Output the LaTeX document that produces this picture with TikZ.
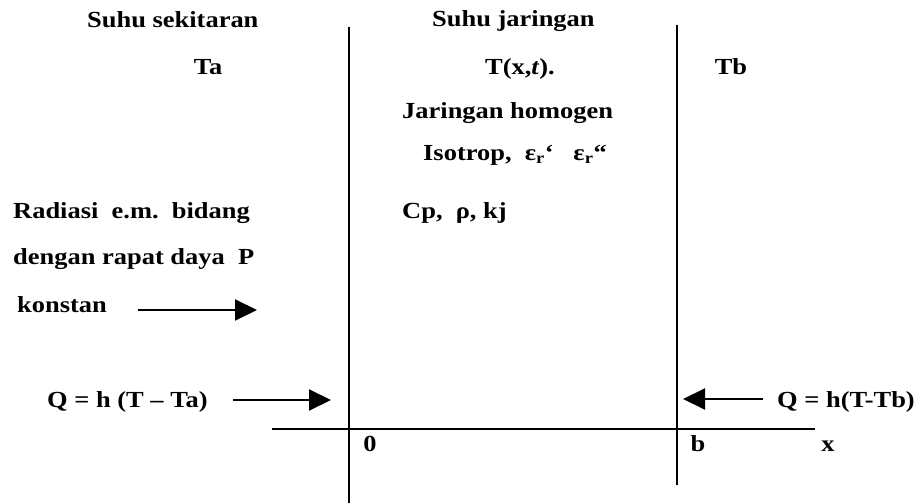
\documentclass[tikz,border=0pt]{standalone}
\usepackage{fontspec}
\setmainfont{Liberation Serif}[FakeStretch=1.15]
\usetikzlibrary{arrows.meta}
\begin{document}
\begin{tikzpicture}[
	x=1pt, y=-1pt,
	teksw/.style={ inner sep=0pt, anchor=base west, font=\fontsize{23}{27}\selectfont\bfseries },
	teksc/.style={ inner sep=0pt, anchor=base, font=\fontsize{23}{27}\selectfont\bfseries },
	batas/.style={ line width=2pt },
	panah/.style={ line width=2pt, -{Triangle[length=22pt,width=21pt]} }
]
\useasboundingbox (0,0) rectangle (919,503);

\node at (87,28) (sekitar) [teksw] {Suhu sekitaran};
\node at (432,27) (jaringan) [teksw] {Suhu jaringan};
\node at (208,75) (Ta) [teksc] {Ta};
\node at (520,75) (Txt) [teksc] {T(x,\textit{t}).};
\node at (731,75) (Tb) [teksc] {Tb};
\node at (402,118) (homogen) [teksw] {Jaringan homogen};
\node at (423,160) (isotrop) [teksw] {Isotrop,\ \ ε\textsubscript{r}‘\ \ \ ε\textsubscript{r}“};
\node at (402,218) (sifat) [teksw] {Cp,\ \ ρ, kj};
\node at (13,218) (radiasi) [teksw] {Radiasi\ \ e.m.\ \ bidang};
\node at (13,264) (rapat) [teksw] {dengan rapat daya\ \ P};
\node at (17,312) (konstan) [teksw] {konstan};
\node at (47,407) (Qa) [teksw] {Q = h (T – Ta)};
\node at (777,407) (Qb) [teksw] {Q = h(T-Tb)};
\node at (370,451) (nol) [teksc] {0};
\node at (698,451) (b) [teksc] {b};
\node at (828,451) (x) [teksc] {x};

\coordinate (kiriA) at (349,27);
\coordinate (kiriB) at (349,503);
\coordinate (kananA) at (677,25);
\coordinate (kananB) at (677,485);
\coordinate (sumbuA) at (272,429);
\coordinate (sumbuB) at (815,429);
\draw[batas] (kiriA) -- (kiriB);
\draw[batas] (kananA) -- (kananB);
\draw[batas] (sumbuA) -- (sumbuB);

\coordinate (pA) at (138,310);
\coordinate (pB) at (257,310);
\coordinate (qA) at (233,400);
\coordinate (qB) at (331,400);
\coordinate (rA) at (763,399);
\coordinate (rB) at (683,399);
\draw[panah] (pA) -- (pB);
\draw[panah] (qA) -- (qB);
\draw[panah] (rA) -- (rB);

\end{tikzpicture}
\end{document}
